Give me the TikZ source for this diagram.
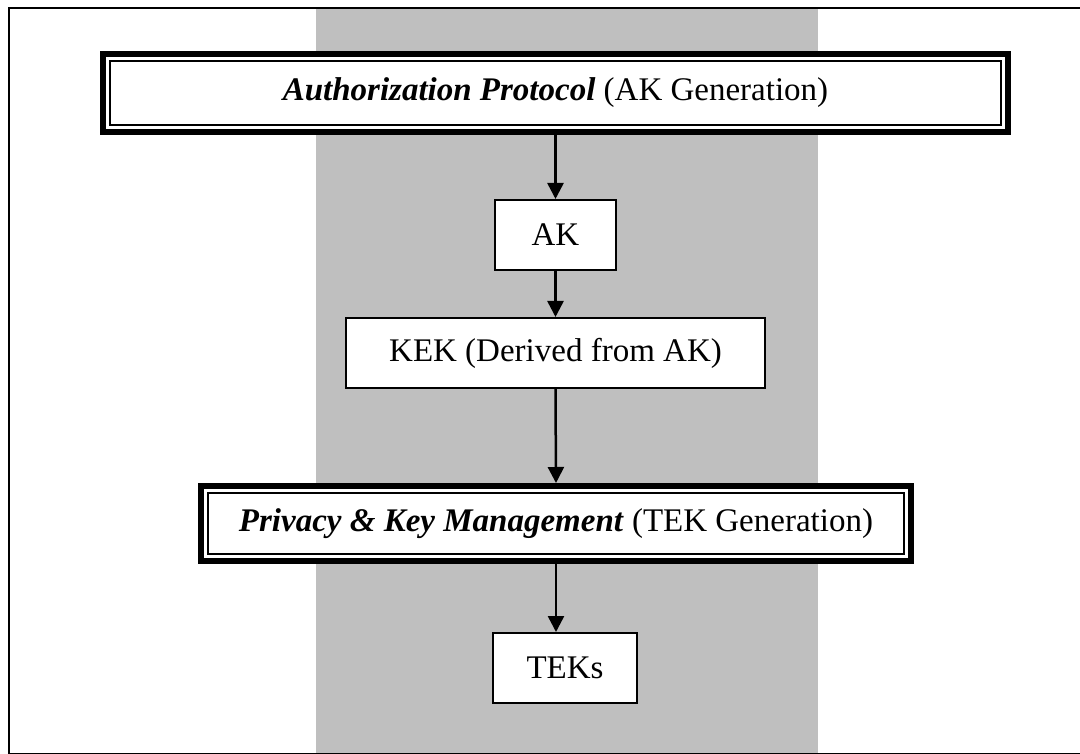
\documentclass[tikz,border=0pt]{standalone}
\usepackage{fontspec}
\setmainfont{Liberation Serif}
\usetikzlibrary{arrows.meta}
\begin{document}
\begin{tikzpicture}[x=1pt,y=-1pt,
  lbl/.style={font=\fontsize{33}{38}\selectfont},
  plainbox/.style={draw, line width=2pt, fill=white, inner sep=0pt, lbl},
  heavybox/.style={draw, line width=6pt, fill=white, inner sep=0pt, lbl},
  flow/.style={line width=2.5pt, -{Triangle[width=16pt,length=16pt]}}]
  \useasboundingbox (0,0) rectangle (1080,754);
  % background band and frame
  \fill[black!25] (316,8) rectangle (818,756);
  \draw[line width=2.5pt] (9,8) rectangle (1090,754.5);

  % heavy framed boxes (thick outer rule, thin inner rule)
  \node[heavybox, minimum width=905pt, minimum height=78pt] (auth) at (555.5,93)
    {\textbf{\textit{Authorization Protocol}} (AK Generation)};
  \draw[line width=2pt] ([shift={(10pt,-10pt)}]auth.north west) rectangle ([shift={(-10pt,10pt)}]auth.south east);

  \node[heavybox, minimum width=710pt, minimum height=75pt] (priv) at (556,523.5)
    {\textbf{\textit{Privacy \& Key Management}} (TEK Generation)};
  \draw[line width=2pt] ([shift={(10pt,-10pt)}]priv.north west) rectangle ([shift={(-10pt,10pt)}]priv.south east);

  % plain boxes
  \node[plainbox, minimum width=121pt, minimum height=70pt] (ak) at (555.5,235) {AK};
  \node[plainbox, minimum width=419pt, minimum height=70pt] (kek) at (555.5,353) {KEK (Derived from AK)};
  \node[plainbox, minimum width=144pt, minimum height=70pt] (teks) at (565,668) {TEKs};

  % connectors
  \draw[flow] (auth.south) -- (ak.north);
  \draw[flow] (ak.south) -- (kek.north);
  \draw[flow] (kek.south) -- (priv.north);
  \draw[flow] (priv.south) -- (priv.south |- teks.north);
\end{tikzpicture}
\end{document}
